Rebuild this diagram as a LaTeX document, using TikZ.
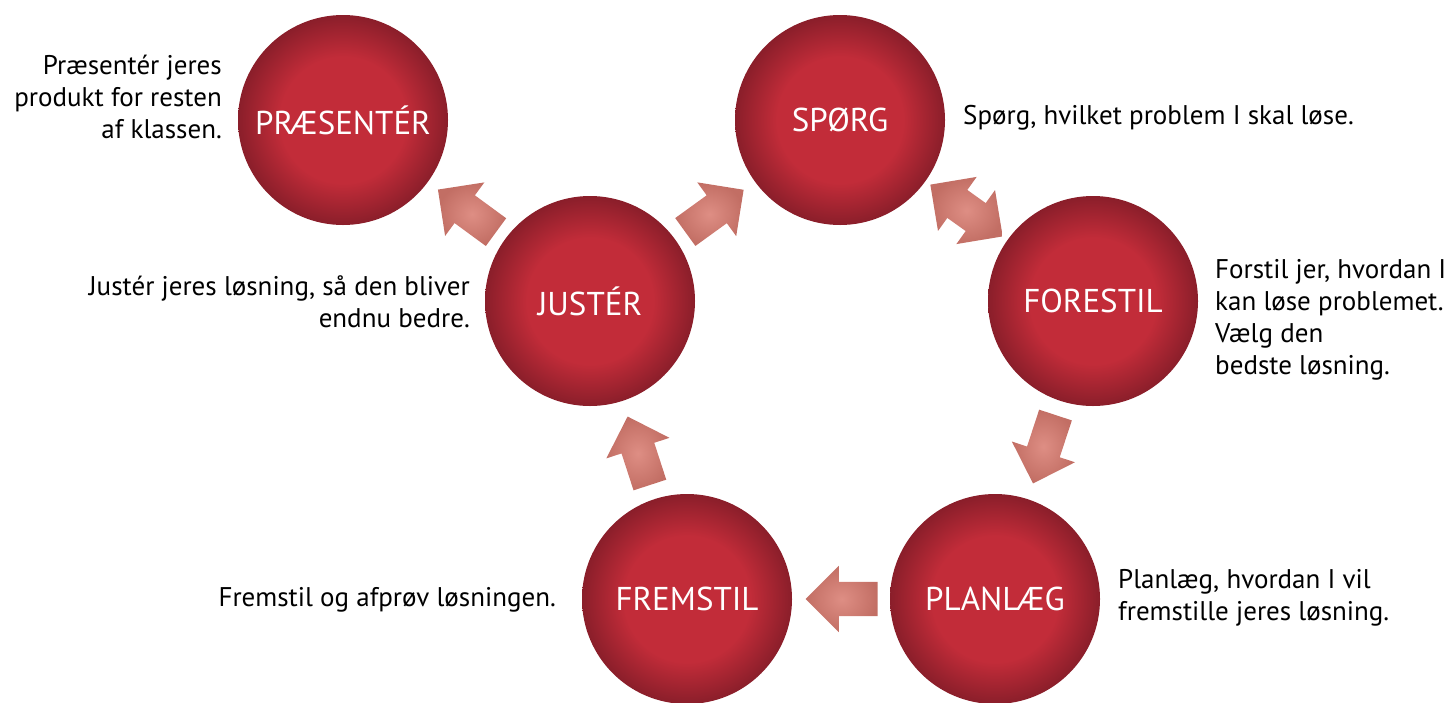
\documentclass[tikz,border=0pt]{standalone}
\usepackage{fontspec}
\setmainfont{PT Sans}
\usetikzlibrary{calc,shapes.arrows}

\definecolor{ballin}{RGB}{194,44,57}
\definecolor{ballout}{RGB}{138,30,42}
\definecolor{arrowin}{RGB}{222,142,132}
\definecolor{arrowout}{RGB}{194,110,100}
\pgfdeclareradialshading{ballshade}{\pgfpoint{0bp}{0bp}}{color(0bp)=(ballin); color(15bp)=(ballin); color(25bp)=(ballout); color(50bp)=(ballout)}
\pgfdeclareradialshading{arrowshade}{\pgfpoint{0bp}{0bp}}{color(0bp)=(arrowin); color(25bp)=(arrowout); color(50bp)=(arrowout)}

\tikzset{
    ball/.style={circle, shade, shading=ballshade, minimum size=210pt, inner sep=0pt,
        text=white, font=\fontsize{33}{38}\selectfont},
    note/.style={font=\fontsize{27}{32}\selectfont, inner sep=0pt},
    onearrow/.style={single arrow, shade, shading=arrowshade, inner xsep=0pt, inner ysep=17pt,
        minimum height=72pt, single arrow head extend=16pt},
    twoarrow/.style={double arrow, shade, shading=arrowshade, inner xsep=0pt, inner ysep=17pt,
        minimum height=89pt, double arrow head extend=16pt}
}

% block arrows between two circles
\newcommand{\stepflow}[2]{%
    \path let \p1=($(#2)-(#1)$), \n1={atan2(\y1,\x1)} in
        node[onearrow, rotate=\n1] at ($(#1)!0.47!(#2)$) {};
}
\newcommand{\stepboth}[2]{%
    \path let \p1=($(#2)-(#1)$), \n1={atan2(\y1,\x1)} in
        node[twoarrow, rotate=\n1] at ($(#1)!0.5!(#2)$) {};
}

\begin{document}
\begin{tikzpicture}[x=1pt, y=-1pt]
    \useasboundingbox (0,0) rectangle (1447,702);

    \node[ball] (praesenter) at (343,120) {PRÆSENTÉR};
    \node[ball] (spoerg)     at (840,120) {SPØRG};
    \node[ball] (forestil)   at (1093,301) {FORESTIL};
    \node[ball] (planlaeg)   at (995,599) {PLANLÆG};
    \node[ball] (fremstil)   at (687,599) {FREMSTIL};
    \node[ball] (juster)     at (590,301) {JUSTÉR};

    \stepflow{juster}{praesenter}
    \stepflow{juster}{spoerg}
    \stepboth{spoerg}{forestil}
    \stepflow{forestil}{planlaeg}
    \stepflow{planlaeg}{fremstil}
    \stepflow{fremstil}{juster}

    \node[note, align=right, anchor=east] (praesenter text) at (222,97)
        {Præsentér jeres\\produkt for resten\\af klassen.};
    \node[note, anchor=west] (spoerg text) at (963,118)
        {Spørg, hvilket problem I skal løse.};
    \node[note, align=left, anchor=west] (forestil text) at (1215,320)
        {Forstil jer, hvordan I\\kan løse problemet.\\Vælg den\\bedste løsning.};
    \node[note, align=left, anchor=west] (planlaeg text) at (1118,598)
        {Planlæg, hvordan I vil\\fremstille jeres løsning.};
    \node[note, anchor=east] (fremstil text) at (556,600)
        {Fremstil og afprøv løsningen.};
    \node[note, align=right, anchor=east] (juster text) at (470,302)
        {Justér jeres løsning, så den bliver\\endnu bedre.};
\end{tikzpicture}
\end{document}
